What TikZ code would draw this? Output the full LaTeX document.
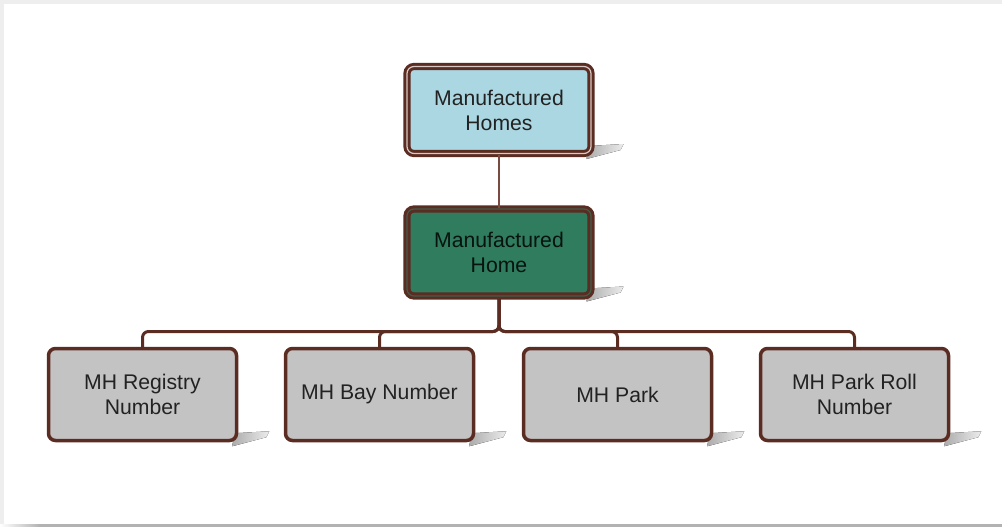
\documentclass[tikz,border=0pt]{standalone}
\usepackage{fontspec}
\setmainfont{Liberation Sans}
\usetikzlibrary{positioning, calc, backgrounds}
\definecolor{Bark}{HTML}{5B2C22}
\definecolor{Twig}{HTML}{7A4A40}
\definecolor{Rim}{HTML}{D8C8C4}
\definecolor{Sky}{HTML}{AAD7E2}
\definecolor{Pine}{HTML}{2F7C5F}
\definecolor{Ash}{HTML}{C3C3C3}
\definecolor{Ink}{HTML}{222222}
\definecolor{Frame}{HTML}{EEEEEE}
\tikzset{
    box/.style={rectangle, rounded corners=7pt, draw=Bark, line width=3.5pt, fill=Ash, text=Ink,
        minimum width=188pt, minimum height=92pt, align=center, font=\fontsize{21.2}{25}\selectfont},
    rootbox/.style={box, fill=Sky, line width=3pt, double=Rim, double distance=1.2pt,
        minimum width=184pt, minimum height=87pt},
    mainbox/.style={rootbox, fill=Pine, double=Pine!60!Bark, text=black!85!Pine},
    link/.style={color=Twig, line width=2pt},
    bus/.style={color=Bark, line width=3pt, rounded corners=6pt},
    drop/.style={left color=gray!65, right color=gray!15},
}

\begin{document}
\begin{tikzpicture}[x=1pt, y=-1pt]
    \useasboundingbox (0,0) rectangle (1002,527);
    % Kasten oben
    \node[rootbox] (homes) at (499,110) {Manufactured\\Homes};
    \node[mainbox] (home) at (499,252.5) {Manufactured\\Home};
    % Reihe unten
    \node[box] (registry) at (142.5,394.5) {MH Registry\\Number};
    \node[box] (bay) at (379.5,394.5) {MH Bay Number};
    \node[box] (park) at (617.5,394.5) {MH Park};
    \node[box] (roll) at (854.5,394.5) {MH Park Roll\\Number};

    % Verbindungen
    \draw[link] (homes) -- (home);
    \coordinate (fork) at ($(home.south)+(0,34)$);
    \foreach \c in {registry, bay, park, roll}
        \draw[bus] (home.south) -- (fork) -| (\c.north);

    % Rahmen und Schatten
    \begin{pgfonlayer}{background}
        \fill[Frame] (0,0) rectangle (1002,527);
        \fill[white] (4,4) rectangle (1002,524);
        \fill[left color=white, right color=gray!60] (0,524) rectangle (40,527);
        \fill[gray!60] (40,524) rectangle (1002,527);
        \foreach \n in {homes, home, registry, bay, park, roll}
            \fill[drop] ($(\n.south east)+(-4,-9)$) -- ++(35,-2) -- ++(-3,6)
                -- ($(\n.south east)+(-6,4)$) -- cycle;
    \end{pgfonlayer}
\end{tikzpicture}
\end{document}
